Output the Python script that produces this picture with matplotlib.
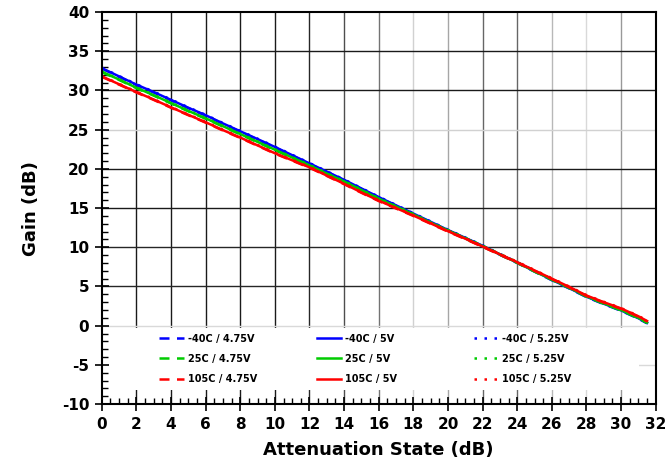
import numpy as np
import matplotlib
matplotlib.use('Agg')
import matplotlib.pyplot as plt
from matplotlib.ticker import MultipleLocator
from matplotlib.patches import Rectangle

plt.rcParams['axes.unicode_minus'] = False

# attenuation states (dB)
atten = [0, 1, 2, 3, 4, 5, 6, 7, 8, 9, 10, 11, 12, 13, 14, 15, 16, 17, 18, 19,
         20, 21, 22, 23, 24, 25, 26, 27, 28, 29, 30, 31, 31.5]

# gain (dB), -40C
g_m40_475 = [32.8, 31.75, 30.7, 29.75, 28.75, 27.75, 26.8, 25.75, 24.75, 23.75, 22.75,
             21.7, 20.65, 19.6, 18.55, 17.45, 16.35, 15.3, 14.25, 13.2, 12.15, 11.15,
             10.15, 9.05, 8.0, 6.9, 5.8, 4.75, 3.65, 2.75, 1.9, 0.9, 0.3]
g_m40_500 = [32.85, 31.8, 30.75, 29.8, 28.8, 27.8, 26.85, 25.8, 24.8, 23.8, 22.8,
             21.75, 20.7, 19.65, 18.6, 17.5, 16.4, 15.35, 14.3, 13.25, 12.2, 11.2,
             10.2, 9.1, 8.05, 6.95, 5.85, 4.8, 3.7, 2.8, 1.95, 0.95, 0.35]
g_m40_525 = [32.9, 31.85, 30.8, 29.85, 28.85, 27.85, 26.9, 25.85, 24.85, 23.85, 22.85,
             21.8, 20.75, 19.7, 18.65, 17.55, 16.45, 15.4, 14.35, 13.3, 12.25, 11.25,
             10.25, 9.15, 8.1, 7.0, 5.9, 4.85, 3.75, 2.85, 2.0, 1.0, 0.4]
# 25C
g_25_475 = [32.35, 31.35, 30.3, 29.35, 28.35, 27.35, 26.4, 25.4, 24.4, 23.4, 22.4,
            21.4, 20.4, 19.35, 18.35, 17.25, 16.15, 15.15, 14.15, 13.1, 12.1, 11.1,
            10.1, 9.05, 8.0, 6.9, 5.85, 4.8, 3.7, 2.8, 1.95, 0.95, 0.35]
g_25_500 = [32.4, 31.4, 30.35, 29.4, 28.4, 27.4, 26.45, 25.45, 24.45, 23.45, 22.45,
            21.45, 20.45, 19.4, 18.4, 17.3, 16.2, 15.2, 14.2, 13.15, 12.15, 11.15,
            10.15, 9.1, 8.05, 6.95, 5.9, 4.85, 3.75, 2.85, 2.0, 1.0, 0.4]
g_25_525 = [32.45, 31.45, 30.4, 29.45, 28.45, 27.45, 26.5, 25.5, 24.5, 23.5, 22.5,
            21.5, 20.5, 19.45, 18.45, 17.35, 16.25, 15.25, 14.25, 13.2, 12.2, 11.2,
            10.2, 9.15, 8.1, 7.0, 5.95, 4.9, 3.8, 2.9, 2.05, 1.05, 0.45]
# 105C
g_105_475 = [31.75, 30.75, 29.75, 28.8, 27.8, 26.85, 25.9, 24.9, 23.95, 22.95, 21.95,
             21.05, 20.15, 19.1, 18.05, 16.95, 15.9, 14.95, 14.0, 13.0, 12.0, 11.05,
             10.05, 9.05, 8.05, 7.0, 5.95, 4.9, 3.8, 2.95, 2.15, 1.15, 0.55]
g_105_500 = [31.8, 30.8, 29.8, 28.85, 27.85, 26.9, 25.95, 24.95, 24.0, 23.0, 22.0,
             21.1, 20.2, 19.15, 18.1, 17.0, 15.95, 15.0, 14.05, 13.05, 12.05, 11.1,
             10.1, 9.1, 8.1, 7.05, 6.0, 4.95, 3.85, 3.0, 2.2, 1.2, 0.6]
g_105_525 = [31.85, 30.85, 29.85, 28.9, 27.9, 26.95, 26.0, 25.0, 24.05, 23.05, 22.05,
             21.15, 20.25, 19.2, 18.15, 17.05, 16.0, 15.05, 14.1, 13.1, 12.1, 11.15,
             10.15, 9.15, 8.15, 7.1, 6.05, 5.0, 3.9, 3.05, 2.25, 1.25, 0.65]

temps = ['-40C', '25C', '105C']
volts = ['4.75V', '5V', '5.25V']
colors = ['#0000ff', '#00cc00', '#ff0000']
styles = [(0, (4, 3)), '-', (0, (1, 3))]
gains = [[g_m40_475, g_m40_500, g_m40_525],
         [g_25_475, g_25_500, g_25_525],
         [g_105_475, g_105_500, g_105_525]]

# grid lines: shades as they appear in the original picture
vgrid = [2, 4, 6, 8, 10, 12, 14, 16, 18, 20, 22, 24, 26, 28, 30]
vgrid_c = ['0.1', '0.1', '0.1', '0.1', '0.1', '0.15', '0.3', '0.45', '0.82', '0.65',
           '0.4', '0.4', '0.72', '0.85', '0.6']
hgrid = [-5, 0, 5, 10, 15, 20, 25, 30, 35]
hgrid_c = ['0.85', '0.85', '0.15', '0.15', '0.1', '0.1', '0.82', '0.1', '0.1']

fig = plt.figure(figsize=(6.65, 4.65), dpi=100)
ax = fig.add_axes([0.153, 0.131, 0.833, 0.843])

for xv, c in zip(vgrid, vgrid_c):
    ax.axvline(xv, color=c, lw=1.0, zorder=0.5)
for yv, c in zip(hgrid, hgrid_c):
    ax.axhline(yv, color=c, lw=1.0, zorder=0.5)

lines = {}
for ti in range(3):
    for vi in range(3):
        ln, = ax.plot(atten, gains[ti][vi], color=colors[ti], ls=styles[vi], lw=1.8,
                      label=temps[ti] + ' / ' + volts[vi], zorder=2)
        lines[(ti, vi)] = ln

# white box behind the legend
ax.add_patch(Rectangle((0.0, 0.036), 0.97, 0.158, transform=ax.transAxes,
                       facecolor='white', edgecolor='none', zorder=1.5))

ax.set_xlim(0, 32)
ax.set_ylim(-10, 40)
ax.xaxis.set_major_locator(MultipleLocator(2))
ax.xaxis.set_minor_locator(MultipleLocator(0.5))
ax.yaxis.set_major_locator(MultipleLocator(5))
ax.yaxis.set_minor_locator(MultipleLocator(1))
ax.tick_params(which='major', direction='inout', length=10, width=1.2, labelsize=11, pad=4)
ax.tick_params(which='minor', direction='in', length=4, width=1)
for lab in ax.get_xticklabels() + ax.get_yticklabels():
    lab.set_fontweight('bold')
for s in ax.spines.values():
    s.set_linewidth(1.5)
    s.set_color('black')
    s.set_zorder(3)

ax.set_xlabel('Attenuation State (dB)', fontsize=13, fontweight='bold', labelpad=7)
ax.set_ylabel('Gain (dB)', fontsize=13, fontweight='bold', labelpad=16)

# one legend per voltage column
col_x = [0.104, 0.388, 0.672]
for vi in range(3):
    leg = ax.legend(handles=[lines[(ti, vi)] for ti in range(3)], loc='upper left',
                    bbox_to_anchor=(col_x[vi], 0.18), frameon=False,
                    prop={'size': 7, 'weight': 'bold'}, handlelength=2.5,
                    handletextpad=0.4, borderpad=0, labelspacing=1.05, borderaxespad=0)
    leg.set_zorder(5)
    if vi < 2:
        ax.add_artist(leg)

fig.savefig('out.png', dpi=100)
